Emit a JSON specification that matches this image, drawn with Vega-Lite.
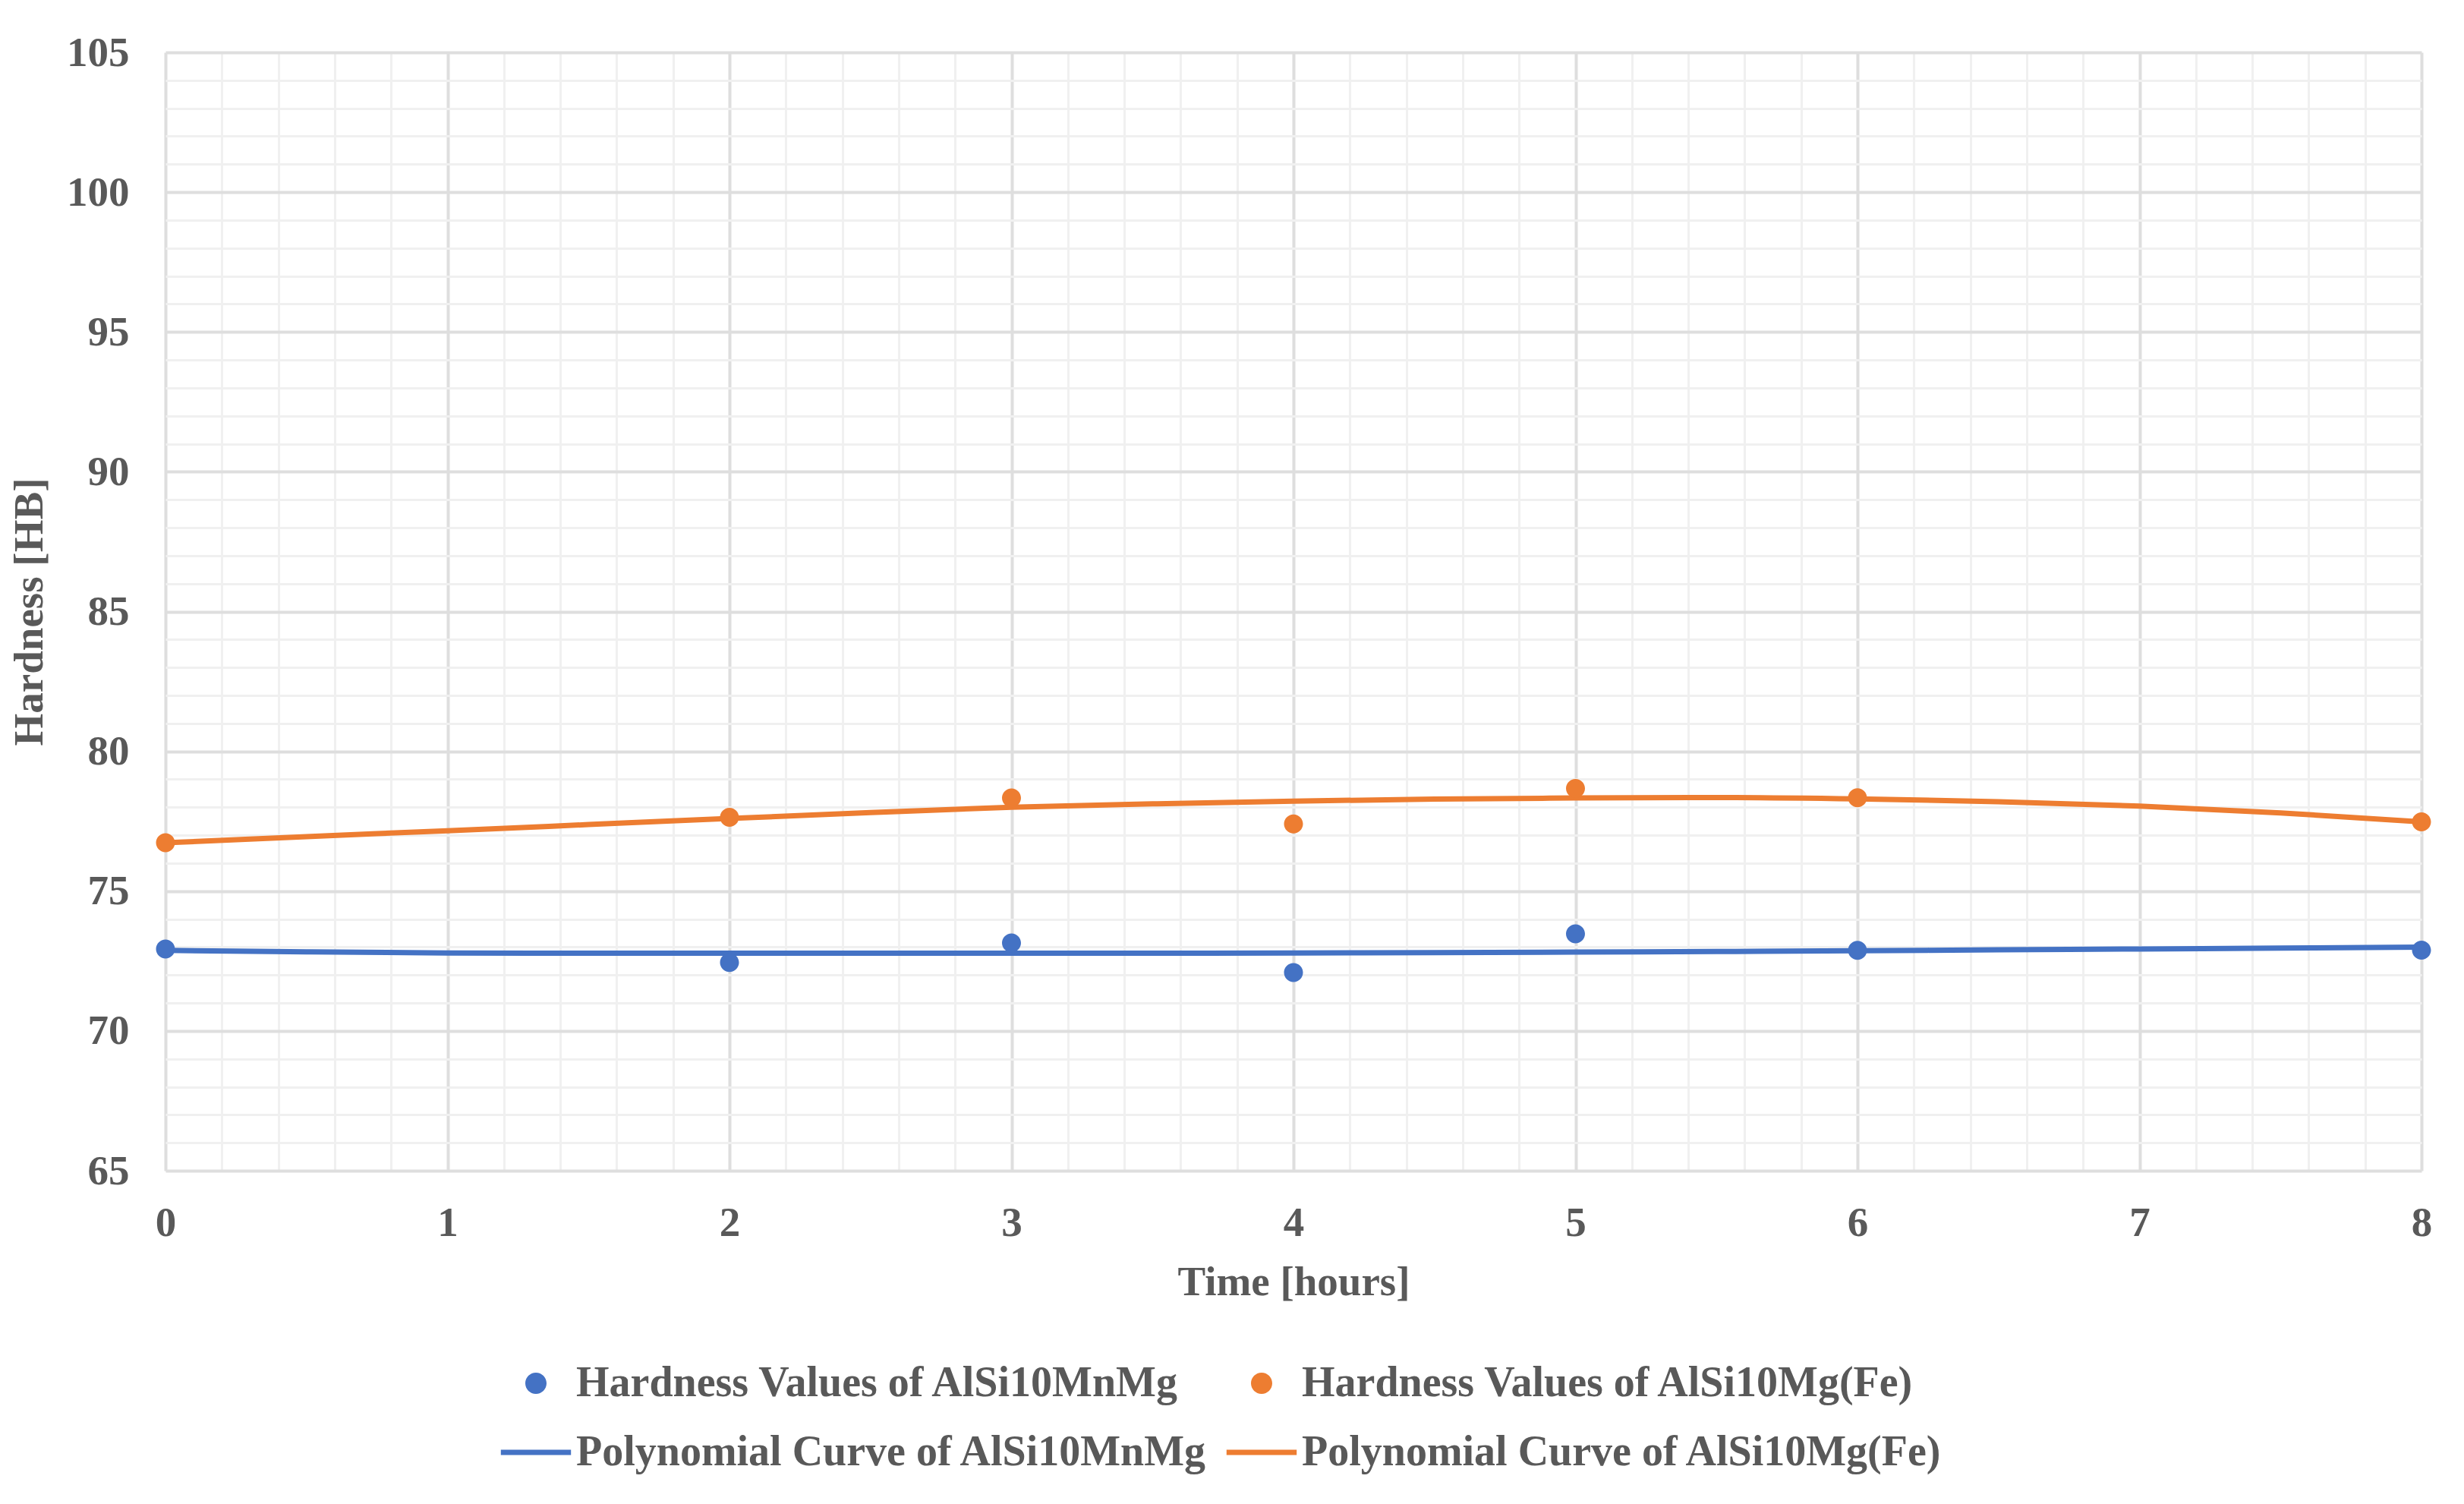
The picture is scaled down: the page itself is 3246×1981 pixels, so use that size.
{
  "$schema": "https://vega.github.io/schema/vega-lite/v6.json",
  "width": 2972,
  "height": 1473,
  "autosize": {"type": "none"},
  "padding": {"left": 218, "top": 69, "right": 56, "bottom": 439},
  "background": "white",
  "config": {
    "view": {"stroke": null},
    "font": "Liberation Serif",
    "axis": {"labelFlush": false, "labelOverlap": false}
  },
  "datasets": {
    "points": [
      {"time": 0, "hardness": 72.93, "series": "Hardness Values of AlSi10MnMg"},
      {"time": 2, "hardness": 72.45, "series": "Hardness Values of AlSi10MnMg"},
      {"time": 3, "hardness": 73.15, "series": "Hardness Values of AlSi10MnMg"},
      {"time": 4, "hardness": 72.09, "series": "Hardness Values of AlSi10MnMg"},
      {"time": 5, "hardness": 73.47, "series": "Hardness Values of AlSi10MnMg"},
      {"time": 6, "hardness": 72.88, "series": "Hardness Values of AlSi10MnMg"},
      {"time": 8, "hardness": 72.89, "series": "Hardness Values of AlSi10MnMg"},
      {"time": 0, "hardness": 76.73, "series": "Hardness Values of AlSi10Mg(Fe)"},
      {"time": 2, "hardness": 77.64, "series": "Hardness Values of AlSi10Mg(Fe)"},
      {"time": 3, "hardness": 78.33, "series": "Hardness Values of AlSi10Mg(Fe)"},
      {"time": 4, "hardness": 77.40, "series": "Hardness Values of AlSi10Mg(Fe)"},
      {"time": 5, "hardness": 78.67, "series": "Hardness Values of AlSi10Mg(Fe)"},
      {"time": 6, "hardness": 78.34, "series": "Hardness Values of AlSi10Mg(Fe)"},
      {"time": 8, "hardness": 77.48, "series": "Hardness Values of AlSi10Mg(Fe)"}
    ],
    "curves": [
      {"time": 0, "hardness": 72.88, "series": "Polynomial Curve of AlSi10MnMg"},
      {"time": 0.5, "hardness": 72.83, "series": "Polynomial Curve of AlSi10MnMg"},
      {"time": 1, "hardness": 72.79, "series": "Polynomial Curve of AlSi10MnMg"},
      {"time": 1.5, "hardness": 72.78, "series": "Polynomial Curve of AlSi10MnMg"},
      {"time": 2, "hardness": 72.78, "series": "Polynomial Curve of AlSi10MnMg"},
      {"time": 2.5, "hardness": 72.78, "series": "Polynomial Curve of AlSi10MnMg"},
      {"time": 3, "hardness": 72.78, "series": "Polynomial Curve of AlSi10MnMg"},
      {"time": 3.5, "hardness": 72.78, "series": "Polynomial Curve of AlSi10MnMg"},
      {"time": 4, "hardness": 72.79, "series": "Polynomial Curve of AlSi10MnMg"},
      {"time": 4.5, "hardness": 72.80, "series": "Polynomial Curve of AlSi10MnMg"},
      {"time": 5, "hardness": 72.82, "series": "Polynomial Curve of AlSi10MnMg"},
      {"time": 5.5, "hardness": 72.84, "series": "Polynomial Curve of AlSi10MnMg"},
      {"time": 6, "hardness": 72.87, "series": "Polynomial Curve of AlSi10MnMg"},
      {"time": 6.5, "hardness": 72.90, "series": "Polynomial Curve of AlSi10MnMg"},
      {"time": 7, "hardness": 72.93, "series": "Polynomial Curve of AlSi10MnMg"},
      {"time": 7.5, "hardness": 72.96, "series": "Polynomial Curve of AlSi10MnMg"},
      {"time": 8, "hardness": 73.00, "series": "Polynomial Curve of AlSi10MnMg"},
      {"time": 0, "hardness": 76.73, "series": "Polynomial Curve of AlSi10Mg(Fe)"},
      {"time": 0.5, "hardness": 76.95, "series": "Polynomial Curve of AlSi10Mg(Fe)"},
      {"time": 1, "hardness": 77.16, "series": "Polynomial Curve of AlSi10Mg(Fe)"},
      {"time": 1.5, "hardness": 77.38, "series": "Polynomial Curve of AlSi10Mg(Fe)"},
      {"time": 2, "hardness": 77.60, "series": "Polynomial Curve of AlSi10Mg(Fe)"},
      {"time": 2.5, "hardness": 77.81, "series": "Polynomial Curve of AlSi10Mg(Fe)"},
      {"time": 3, "hardness": 78.00, "series": "Polynomial Curve of AlSi10Mg(Fe)"},
      {"time": 3.5, "hardness": 78.12, "series": "Polynomial Curve of AlSi10Mg(Fe)"},
      {"time": 4, "hardness": 78.22, "series": "Polynomial Curve of AlSi10Mg(Fe)"},
      {"time": 4.5, "hardness": 78.29, "series": "Polynomial Curve of AlSi10Mg(Fe)"},
      {"time": 5, "hardness": 78.33, "series": "Polynomial Curve of AlSi10Mg(Fe)"},
      {"time": 5.5, "hardness": 78.35, "series": "Polynomial Curve of AlSi10Mg(Fe)"},
      {"time": 6, "hardness": 78.30, "series": "Polynomial Curve of AlSi10Mg(Fe)"},
      {"time": 6.5, "hardness": 78.20, "series": "Polynomial Curve of AlSi10Mg(Fe)"},
      {"time": 7, "hardness": 78.04, "series": "Polynomial Curve of AlSi10Mg(Fe)"},
      {"time": 7.5, "hardness": 77.80, "series": "Polynomial Curve of AlSi10Mg(Fe)"},
      {"time": 8, "hardness": 77.48, "series": "Polynomial Curve of AlSi10Mg(Fe)"}
    ]
  },
  "resolve": {"axis": {"x": "independent", "y": "independent"}},
  "layer": [
    {
      "data": {"name": "curves"},
      "mark": {"type": "line", "strokeWidth": 7, "interpolate": "monotone"},
      "encoding": {
        "x": {
          "field": "time", "type": "quantitative",
          "scale": {"domain": [0, 8], "nice": false, "zero": false},
          "axis": {
            "orient": "bottom",
            "values": [0.2,0.4,0.6,0.8,1.2,1.4,1.6,1.8,2.2,2.4,2.6,2.8,3.2,3.4,3.6,3.8,4.2,4.4,4.6,4.8,5.2,5.4,5.6,5.8,6.2,6.4,6.6,6.8,7.2,7.4,7.6,7.8],
            "grid": true, "gridColor": "#F0F0F0", "gridWidth": 3,
            "labels": false, "ticks": false, "domain": false, "title": null
          }
        },
        "y": {
          "field": "hardness", "type": "quantitative",
          "scale": {"domain": [65, 105], "nice": false, "zero": false},
          "axis": {
            "orient": "left",
            "values": [66,67,68,69,71,72,73,74,76,77,78,79,81,82,83,84,86,87,88,89,91,92,93,94,96,97,98,99,101,102,103,104],
            "grid": true, "gridColor": "#F0F0F0", "gridWidth": 3,
            "labels": false, "ticks": false, "domain": false, "title": null
          }
        },
        "color": {"field": "series", "type": "nominal"},
        "detail": {"field": "series"}
      }
    },
    {
      "data": {"name": "points"},
      "mark": {"type": "point", "filled": true, "opacity": 1, "size": 625},
      "encoding": {
        "x": {
          "field": "time", "type": "quantitative",
          "scale": {"domain": [0, 8], "nice": false, "zero": false},
          "axis": {
            "orient": "bottom",
            "values": [0,1,2,3,4,5,6,7,8],
            "format": "d",
            "grid": true, "gridColor": "#DEDEDE", "gridWidth": 4,
            "domain": false, "ticks": false,
            "labelPadding": 42, "labelFont": "Liberation Serif", "labelFontSize": 55, "labelFontWeight": "bold", "labelColor": "#595959",
            "title": "Time [hours]", "titleFont": "Liberation Serif", "titleFontSize": 55, "titleFontWeight": "bold", "titleColor": "#595959", "titlePadding": 24
          }
        },
        "y": {
          "field": "hardness", "type": "quantitative",
          "scale": {"domain": [65, 105], "nice": false, "zero": false},
          "axis": {
            "orient": "left",
            "values": [65,70,75,80,85,90,95,100,105],
            "format": "d",
            "grid": true, "gridColor": "#DEDEDE", "gridWidth": 4,
            "domain": false, "ticks": false,
            "labelPadding": 48, "labelFont": "Liberation Serif", "labelFontSize": 55, "labelFontWeight": "bold", "labelColor": "#595959",
            "title": "Hardness [HB]", "titleFont": "Liberation Serif", "titleFontSize": 55, "titleFontWeight": "bold", "titleColor": "#595959", "titlePadding": 20
          }
        },
        "shape": {
          "field": "series", "type": "nominal",
          "scale": {
            "domain": ["Hardness Values of AlSi10MnMg", "Hardness Values of AlSi10Mg(Fe)", "Polynomial Curve of AlSi10MnMg", "Polynomial Curve of AlSi10Mg(Fe)"],
            "range": [
              "M-3.3,0L-3.3,0M3.3,0L3.3,0M-1,0A1,1,0,1,1,1,0A1,1,0,1,1,-1,0Z",
              "M-3.3,0L-3.3,0M3.3,0L3.3,0M-1,0A1,1,0,1,1,1,0A1,1,0,1,1,-1,0Z",
              "M-3.3,-0.25H3.3V0.25H-3.3Z",
              "M-3.3,-0.25H3.3V0.25H-3.3Z"
            ]
          },
          "legend": {
            "orient": "none",
            "legendX": 460,
            "legendY": 1725,
            "title": null,
            "columns": 2,
            "direction": "horizontal",
            "padding": 0,
            "rowPadding": 35,
            "columnPadding": 23,
            "labelOffset": 25,
            "labelLimit": 3000,
            "symbolSize": 784,
            "symbolStrokeWidth": 0,
            "labelFont": "Liberation Serif", "labelFontSize": 56, "labelFontWeight": "bold", "labelColor": "#595959"
          }
        },
        "color": {
          "field": "series", "type": "nominal",
          "scale": {
            "domain": ["Hardness Values of AlSi10MnMg", "Hardness Values of AlSi10Mg(Fe)", "Polynomial Curve of AlSi10MnMg", "Polynomial Curve of AlSi10Mg(Fe)"],
            "range": ["#4472C4", "#ED7D31", "#4472C4", "#ED7D31"]
          },
          "legend": {
            "orient": "none",
            "legendX": 460,
            "legendY": 1725,
            "title": null,
            "columns": 2,
            "direction": "horizontal",
            "padding": 0,
            "rowPadding": 35,
            "columnPadding": 23,
            "labelOffset": 25,
            "labelLimit": 3000,
            "symbolSize": 784,
            "symbolStrokeWidth": 0,
            "labelFont": "Liberation Serif", "labelFontSize": 56, "labelFontWeight": "bold", "labelColor": "#595959"
          }
        }
      }
    }
  ]
}
